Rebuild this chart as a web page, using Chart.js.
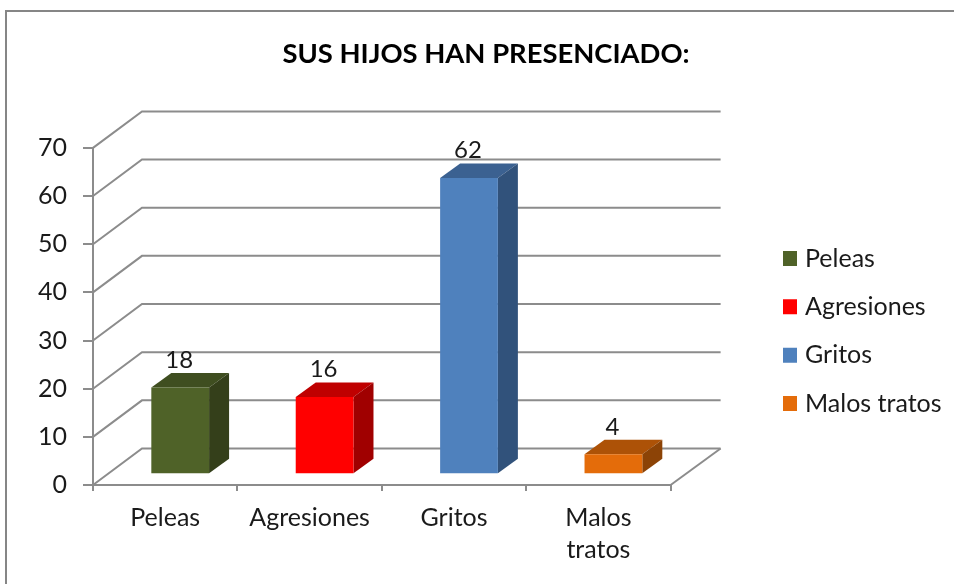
<!DOCTYPE html>
<html><head><meta charset="utf-8">
<style>html,body{margin:0;padding:0;background:#fff}#w{width:954px;height:584px}</style>
<script src="https://cdn.jsdelivr.net/npm/chart.js@4"></script>
</head><body><div id="w"><canvas id="c" width="954" height="584"></canvas></div>
<script>
const titleText = 'SUS HIJOS HAN PRESENCIADO:';
const axisLabels = ['Peleas','Agresiones','Gritos',['Malos','tratos']];
const legendLabels = ['Peleas','Agresiones','Gritos','Malos tratos'];
const values = [18,16,62,4];
const frontColors = ['#4f6228','#ff0000','#4f81bd','#e46c0a'];
const topColors = ['#3f4e20','#bf0000','#3b6191','#ad5207'];
const sideColors = ['#343f1a','#a00000','#31527b','#8c4306'];
const GRAY = '#8c8c8c', INK = '#1a1a1a', FONT = 'Lato, Carlito, sans-serif';
const DEPTH_X = 49, DEPTH_Y = -36.5, BAR_DX = 20, BAR_DY = -14.5, BAR_SHIFT = 15;

const scene = {
  id:'scene',
  beforeDraw(chart){
    const c = chart.ctx, a = chart.chartArea, y = chart.scales.y;
    c.save();
    c.fillStyle='#fff'; c.fillRect(0,0,chart.width,chart.height);
    c.strokeStyle='#868686'; c.lineWidth=2;
    c.strokeRect(6,11,chart.width+20,chart.height+20);
    c.strokeStyle=GRAY; c.lineWidth=2;
    y.ticks.forEach(t=>{
      const p = y.getPixelForValue(t.value);
      c.beginPath(); c.moveTo(a.left,p); c.lineTo(a.left+DEPTH_X,p+DEPTH_Y);
      c.lineTo(a.right+DEPTH_X+1,p+DEPTH_Y); c.stroke();
    });
    const b = y.getPixelForValue(0);
    c.beginPath(); c.moveTo(a.right,b); c.lineTo(a.right+DEPTH_X+1,b+DEPTH_Y); c.stroke();
    c.restore();
  },
  beforeDatasetsDraw(chart){
    const c = chart.ctx;
    c.save();
    c.translate(BAR_SHIFT,0);
    chart.getDatasetMeta(0).data.forEach((el,i)=>{
      const l = el.x-el.width/2, r = el.x+el.width/2, t = el.y, b = el.base;
      c.fillStyle = topColors[i];
      c.beginPath(); c.moveTo(l,t); c.lineTo(l+BAR_DX,t+BAR_DY); c.lineTo(r+BAR_DX,t+BAR_DY); c.lineTo(r,t); c.closePath(); c.fill();
      c.fillStyle = sideColors[i];
      c.beginPath(); c.moveTo(r,t); c.lineTo(r+BAR_DX,t+BAR_DY); c.lineTo(r+BAR_DX,b+BAR_DY); c.lineTo(r,b); c.closePath(); c.fill();
    });
  },
  afterDatasetsDraw(chart){
    const c = chart.ctx;
    c.fillStyle = INK; c.font = '24px '+FONT; c.textAlign='center'; c.textBaseline='middle';
    chart.getDatasetMeta(0).data.forEach((el,i)=>{
      c.fillText(String(values[i]), el.x-1, el.y+BAR_DY-13);
    });
    c.restore();
  },
  afterLayout(chart){
    const L = chart.legend, T = chart.titleBlock;
    const h = L.bottom-L.top, w = L.right-L.left;
    L.left = 764.2; L.right = L.left+w; L.top += 39; L.bottom = L.top+h;
    T.left += 2*(486-(T.left+T.right)/2);
  }
};

new Chart(document.getElementById('c'),{
  type:'bar',
  data:{labels:axisLabels,datasets:[{data:values,yAxisID:'bars',backgroundColor:frontColors,barPercentage:0.4,categoryPercentage:1,borderWidth:0}]},
  plugins:[scene],
  options:{
    responsive:false,animation:false,
    layout:{padding:{left:0,top:0,bottom:0,right:96}},
    scales:{
      x:{grid:{color:GRAY,lineWidth:2,drawOnChartArea:false,drawTicks:true,tickLength:6},
         border:{color:GRAY,width:2},
         ticks:{color:INK,font:{family:FONT,size:25,lineHeight:1.28},padding:11,maxRotation:0,autoSkip:false},
         afterFit(s){s.height=99;}},
      y:{position:'left',min:0,max:70,
         grid:{color:GRAY,lineWidth:2,drawOnChartArea:false,tickLength:10},
         border:{color:GRAY,width:2},
         ticks:{stepSize:10,color:INK,font:{family:FONT,size:25},padding:16},
         afterFit(s){s.width=93;}},
      bars:{display:false,min:-2.45,max:68.3}
    },
    plugins:{
      tooltip:{enabled:false},
      title:{display:true,text:titleText,color:'#000',font:{family:FONT,size:27.4,weight:'bold'},padding:{top:38,bottom:77}},
      legend:{display:true,position:'right',onClick:null,
        labels:{color:INK,font:{family:FONT,size:25},padding:23.3,boxWidth:5,boxHeight:6,
          generateLabels(){return legendLabels.map((t,i)=>({text:t,fillStyle:frontColors[i],strokeStyle:frontColors[i],lineWidth:9,lineJoin:'miter',fontColor:INK,hidden:false,index:i}));}}}
    }
  }
});
</script></body></html>
